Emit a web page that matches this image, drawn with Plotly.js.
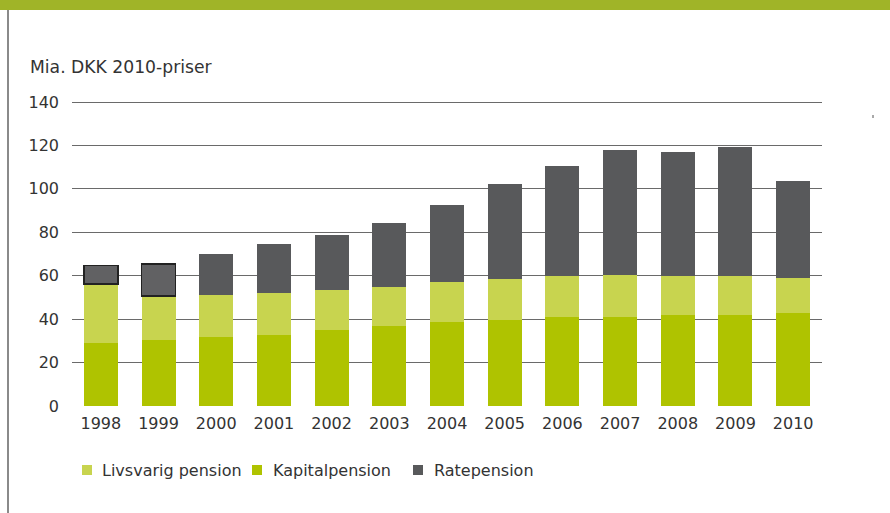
<!DOCTYPE html>
<html>
<head>
<meta charset="utf-8">
<script src="https://cdn.plot.ly/plotly-3.0.1.min.js"></script>
<style>
html,body{margin:0;padding:0;background:#fff;}
#chart{width:890px;height:513px;}
</style>
</head>
<body>
<div id="chart"></div>
<script>
const years = ["1998","1999","2000","2001","2002","2003","2004","2005","2006","2007","2008","2009","2010"];
const kapitalpension = [29.0, 30.4, 31.8, 32.7, 35.0, 36.8, 38.7, 39.6, 41.0, 41.0, 41.9, 41.9, 42.8];
const livsvarigPension = [27.2, 20.3, 19.3, 19.3, 18.4, 18.0, 18.4, 18.9, 18.9, 19.3, 18.0, 18.0, 16.2];
const ratepension = [8.4, 14.6, 18.9, 22.6, 25.4, 29.5, 35.5, 43.8, 50.6, 57.6, 57.1, 59.4, 44.6];
const seriesNames = ["Livsvarig pension", "Kapitalpension", "Ratepension"];
const yTicks = [0, 20, 40, 60, 80, 100, 120, 140];

const colKapital = "#afc300", colLivsvarig = "#c8d44f", colRate = "#58595b";

const L = 72, R = 822, T = 100, B = 406, W = 890, H = 513;
const yMax = 140 * (B - T) / 304;
const px = p => (p - L) / (R - L);
const py = q => (B - q) / (B - T);

const font = {family: "DejaVu Sans, sans-serif", size: 16, color: "#333333"};
const unitFont = {family: "DejaVu Sans, sans-serif", size: 17.2, color: "#333333"};

const rateFill = ratepension.map((v, i) => i < 2 ? "#616163" : colRate);
const rateLine = ratepension.map((v, i) => i < 2 ? 1.5 : 0);

const traces = [
  {type: "bar", name: seriesNames[1], x: years, y: kapitalpension,
   marker: {color: colKapital, line: {width: 0}}, hoverinfo: "skip"},
  {type: "bar", name: seriesNames[0], x: years, y: livsvarigPension,
   marker: {color: colLivsvarig, line: {width: 0}}, hoverinfo: "skip"},
  {type: "bar", name: seriesNames[2], x: years, y: ratepension,
   marker: {color: rateFill, line: {width: rateLine, color: "#222222"}}, hoverinfo: "skip"}
];

// legend drawn as keys + labels
const legendItems = [
  {name: seriesNames[0], color: colLivsvarig, keyX: 82, textX: 100},
  {name: seriesNames[1], color: colKapital, keyX: 252, textX: 271},
  {name: seriesNames[2], color: colRate, keyX: 413, textX: 432}
];
const legendY = 470;

const annotations = [
  {text: "Mia. DKK 2010-priser", xref: "paper", yref: "paper", x: px(28), y: py(67),
   xanchor: "left", yanchor: "middle", showarrow: false, font: unitFont}
];
const shapes = [
  {type: "rect", xref: "paper", yref: "paper", x0: px(0), x1: px(W), y0: py(0), y1: py(10),
   fillcolor: "#a0b428", line: {width: 0}, layer: "above"},
  {type: "line", xref: "paper", yref: "paper", x0: px(8), x1: px(8), y0: py(10), y1: py(H),
   line: {color: "#8a8a8a", width: 2}},
  {type: "line", xref: "paper", yref: "paper", x0: px(873), x1: px(873), y0: py(115), y1: py(118),
   line: {color: "#555555", width: 1}}
];
legendItems.forEach(it => {
  shapes.push({type: "rect", xref: "paper", yref: "paper",
    x0: px(it.keyX), x1: px(it.keyX + 10), y0: py(legendY - 5), y1: py(legendY + 5),
    fillcolor: it.color, line: {width: 0}});
  annotations.push({text: it.name, xref: "paper", yref: "paper", x: px(it.textX), y: py(legendY),
    xanchor: "left", yanchor: "middle", showarrow: false, font: font});
});

const layout = {
  width: W, height: H,
  margin: {l: L, r: W - R, t: T, b: H - B, pad: 0},
  paper_bgcolor: "#ffffff", plot_bgcolor: "#ffffff",
  barmode: "stack", bargap: 0.41,
  font: font,
  showlegend: false,
  xaxis: {type: "category", showgrid: false, zeroline: false, showline: false,
          ticks: "", tickfont: font, ticklabelstandoff: 6, fixedrange: true},
  yaxis: {range: [0, yMax], tickvals: yTicks, ticktext: yTicks.map(String), showgrid: true,
          gridcolor: "#6a6a6a", gridwidth: 1, zeroline: false, showline: false,
          ticks: "", tickfont: font, ticklabelstandoff: 12, fixedrange: true},
  annotations: annotations,
  shapes: shapes
};

Plotly.newPlot("chart", traces, layout, {displayModeBar: false, staticPlot: true});
</script>
</body>
</html>
